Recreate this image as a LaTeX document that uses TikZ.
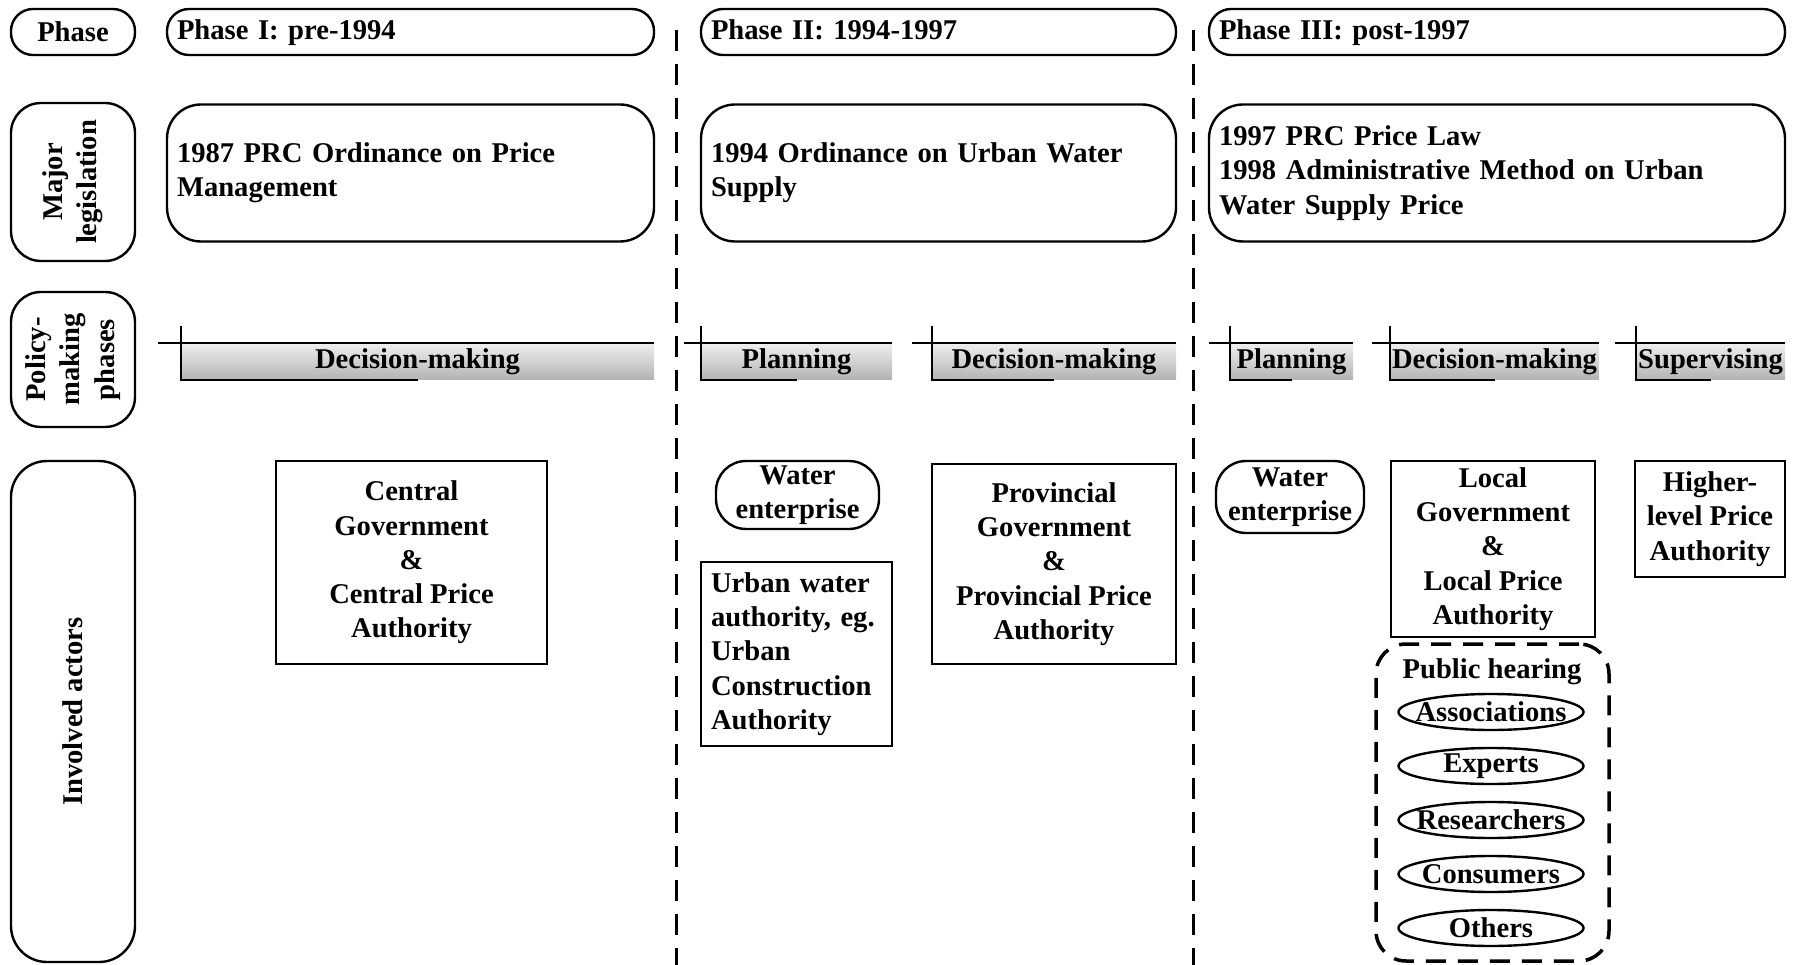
\documentclass[tikz,border=0pt]{standalone}
\usepackage{fontspec}
\setmainfont{Liberation Serif}
\usetikzlibrary{shapes.geometric}
\frenchspacing

\tikzset{
  rowlabel/.style={draw,line width=2.4pt,rounded corners=30pt,rotate=90,align=center,inner sep=0pt},
  phasebox/.style={draw,line width=2.4pt,rounded corners=22pt,minimum height=46pt,inner xsep=10pt,inner ysep=0pt,align=left},
  lawbox/.style={draw,line width=2.4pt,rounded corners=34pt,minimum height=137pt,inner xsep=10pt,align=left},
  actorbox/.style={draw,line width=2pt,inner sep=2pt,align=center},
  firm/.style={draw,line width=2.4pt,rounded corners=30pt,inner sep=0pt,align=center},
  stagebar/.style={top color=gray!12,bottom color=gray!60,minimum height=37pt,inner sep=0pt},
  party/.style={ellipse,draw,line width=2.4pt,minimum width=185pt,minimum height=36pt,inner sep=0pt},
  phaseline/.style={line width=3pt,dash pattern=on 21pt off 13pt}
}

\begin{document}
\begin{tikzpicture}[x=1pt,y=-1pt,font=\fontsize{28.6}{34.3}\selectfont\bfseries]
  \useasboundingbox (0,0) rectangle (1794,965);
  % \draw[help lines,step=100] (0,0) grid (1794,965);

  % 左列标签
  \node[phasebox,minimum width=124pt,align=center] (phase) at (73,32) {Phase};
  \node[rowlabel,minimum width=158pt,minimum height=124pt] (lawlab) at (73,182) {Major\\legislation};
  \node[rowlabel,minimum width=135pt,minimum height=124pt] (stagelab) at (73,359.5) {Policy-\\making\\phases};
  \node[rowlabel,rounded corners=36pt,minimum width=501pt,minimum height=124pt] (actorlab) at (73,711.5) {Involved actors};

  % 阶段
  \node[phasebox,text width=467pt,text depth=4pt] (ph1) at (410.5,32) {Phase I: pre-1994};
  \node[phasebox,text width=455pt,text depth=4pt] (ph2) at (938.5,32) {Phase II: 1994-1997};
  \node[phasebox,text width=556pt,text depth=4pt] (ph3) at (1497,32) {Phase III: post-1997};

  % 分隔虚线
  \draw[phaseline] (676,30) -- (676,965);
  \draw[phaseline] (1193,30) -- (1193,965);

  % 法规
  \node[lawbox,text width=467pt] (law1) at (410.5,173) {1987 PRC Ordinance on Price\\Management};
  \node[lawbox,text width=455pt] (law2) at (938.5,173) {1994 Ordinance on Urban Water\\Supply};
  \node[lawbox,text width=556pt] (law3) at (1497,173) {1997 PRC Price Law\\1998 Administrative Method on Urban\\Water Supply Price};

  % 决策阶段
  \node[stagebar,minimum width=473pt] (dm1) at (417.5,361.5) {Decision-making};
  \draw[line width=2pt] ([xshift=-23pt]dm1.north west) -- (dm1.north east);
  \draw[line width=2pt] ([yshift=17pt]dm1.north west) -- (dm1.south west) -- (dm1.south);

  \node[stagebar,minimum width=191pt] (pl2) at (796.5,361.5) {Planning};
  \draw[line width=2pt] ([xshift=-17pt]pl2.north west) -- (pl2.north east);
  \draw[line width=2pt] ([yshift=17pt]pl2.north west) -- (pl2.south west) -- (pl2.south);

  \node[stagebar,minimum width=244pt] (dm2) at (1054,361.5) {Decision-making};
  \draw[line width=2pt] ([xshift=-20pt]dm2.north west) -- (dm2.north east);
  \draw[line width=2pt] ([yshift=17pt]dm2.north west) -- (dm2.south west) -- (dm2.south);

  \node[stagebar,minimum width=123pt] (pl3) at (1291.5,361.5) {Planning};
  \draw[line width=2pt] ([xshift=-21pt]pl3.north west) -- (pl3.north east);
  \draw[line width=2pt] ([yshift=17pt]pl3.north west) -- (pl3.south west) -- (pl3.south);

  \node[stagebar,minimum width=209pt] (dm3) at (1494.5,361.5) {Decision-making};
  \draw[line width=2pt] ([xshift=-18pt]dm3.north west) -- (dm3.north east);
  \draw[line width=2pt] ([yshift=17pt]dm3.north west) -- (dm3.south west) -- (dm3.south);

  \node[stagebar,minimum width=149pt] (sv3) at (1710.5,361.5) {Supervising};
  \draw[line width=2pt] ([xshift=-21pt]sv3.north west) -- (sv3.north east);
  \draw[line width=2pt] ([yshift=17pt]sv3.north west) -- (sv3.south west) -- (sv3.south);

  % 参与者
  \node[actorbox,minimum width=271pt,minimum height=203pt] (cgov) at (411.5,562.5) {Central\\Government\\\&\\Central Price\\Authority};

  \node[firm,minimum width=163pt,minimum height=68pt] (firm2) at (797.5,495) {Water\\enterprise};
  \node[actorbox,text width=171pt,minimum height=184pt,inner xsep=10pt,align=left] (urban) at (796.5,654) {Urban water\\authority, eg.\\Urban\\Construction\\Authority};
  \node[actorbox,minimum width=244pt,minimum height=200pt] (pgov) at (1054,564) {Provincial\\Government\\\&\\Provincial Price\\Authority};

  \node[firm,minimum width=148pt,minimum height=72pt] (firm3) at (1290,497) {Water\\enterprise};
  \node[actorbox,minimum width=204pt,minimum height=176pt] (lgov) at (1493,549) {Local\\Government\\\&\\Local Price\\Authority};
  \node[actorbox,minimum width=150pt,minimum height=116pt] (upper) at (1710,519) {Higher-\\level Price\\Authority};

  % 听证会
  \node[draw,line width=3.5pt,dash pattern=on 20pt off 12pt,rounded corners=30pt,minimum width=233pt,minimum height=317pt] (hearing) at (1492.5,802.5) {};
  \node (hearingtitle) at (1492,672) {Public hearing};
  \node[party] (assoc) at (1491,712) {\makebox[0pt]{Associations}};
  \node[party] (expert) at (1491,766) {\makebox[0pt]{Experts}};
  \node[party] (research) at (1491,820) {\makebox[0pt]{Researchers}};
  \node[party] (consumer) at (1491,874) {\makebox[0pt]{Consumers}};
  \node[party] (other) at (1491,928) {\makebox[0pt]{Others}};
\end{tikzpicture}
\end{document}
